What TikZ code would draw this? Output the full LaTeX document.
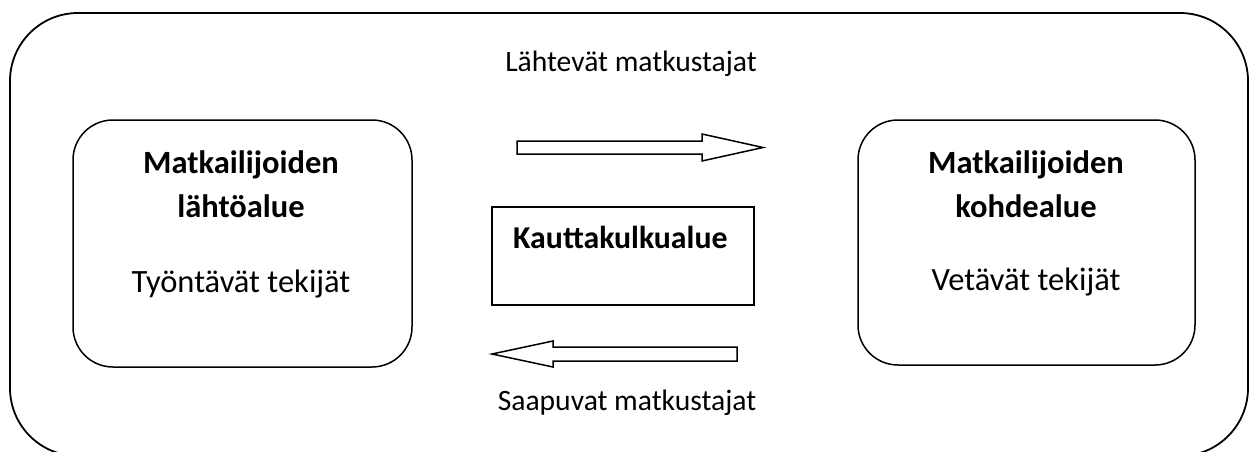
\documentclass[tikz,border=0pt]{standalone}
\usepackage{fontspec}
\setmainfont{Carlito}
\begin{document}
\begin{tikzpicture}[x=1pt,y=-1pt,
  frame/.style={draw=black,line width=1.8pt,rounded corners=68pt},
  area/.style={draw=black,line width=1.5pt,rounded corners=40pt},
  transit/.style={draw=black,line width=1.5pt},
  flow/.style={draw=black,line width=1.5pt,fill=white,line join=miter},
  lbl/.style={anchor=base,inner sep=0pt,font=\fontsize{29.6}{35}\selectfont},
  blbl/.style={anchor=base,inner sep=0pt,font=\fontsize{32.5}{39}\selectfont\bfseries},
  rlbl/.style={anchor=base,inner sep=0pt,font=\fontsize{32.5}{39}\selectfont}]
\useasboundingbox (0,0) rectangle (1251,452);
\fill[white] (0,0) rectangle (1251,452);
\draw[frame] (10,13) rectangle (1248,456);
\node[area,minimum width=339pt,minimum height=247pt] (src) at (242.5,243.5) {};
\node[area,minimum width=337pt,minimum height=245pt] (dst) at (1026.5,242.5) {};
\node[transit,minimum width=262pt,minimum height=98pt] (mid) at (623,256) {};
\node[blbl] (srcA) at (241,173) {Matkailijoiden};
\node[blbl] (srcB) at (241,217) {lähtöalue};
\node[rlbl] (srcC) at (241,292) {Työntävät tekijät};
\node[blbl] (dstA) at (1026,173) {Matkailijoiden};
\node[blbl] (dstB) at (1026,217) {kohdealue};
\node[rlbl] (dstC) at (1026,290) {Vetävät tekijät};
\node[blbl,anchor=base west,font=\fontsize{31.8}{38}\selectfont\bfseries] (midA) at (513,248) {Kauttakulkualue};
\node[lbl] (top) at (631,72) {Lähtevät matkustajat};
\node[lbl] (bot) at (627,410) {Saapuvat matkustajat};
\draw[flow] (517,141) -- (702,141) -- (702,134) -- (763,147.5) -- (702,161) -- (702,154) -- (517,154) -- cycle;
\draw[flow] (737,347) -- (553,347) -- (553,341) -- (492,354) -- (553,367) -- (553,361) -- (737,361) -- cycle;
\end{tikzpicture}
\end{document}
